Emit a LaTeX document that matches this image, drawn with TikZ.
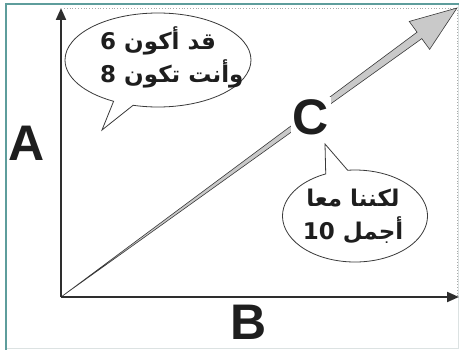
\documentclass[tikz,border=0pt]{standalone}
\usepackage{fontspec}
\usepackage{xcolor}
\setmainfont{Liberation Sans}
\newfontfamily\arabicfont[Script=Arabic]{DejaVu Sans}
\TeXXeTstate=1
\usetikzlibrary{arrows.meta,calc,shapes.callouts}
\definecolor{ink}{HTML}{1E1E1E}
\definecolor{axisgray}{HTML}{2E2E2E}
\definecolor{linegray}{HTML}{3A3A3A}
\definecolor{shaftgray}{HTML}{C9C9C9}
\definecolor{framegreen}{HTML}{5E9D9C}
\definecolor{dotgray}{HTML}{A8A8A8}
\definecolor{edgegray}{HTML}{DCE2E2}
\tikzset{
  axisarr/.style={-{Triangle[length=12pt,width=10pt]},line width=2pt,
                  draw=axisgray},
  shaftarr/.style={draw=linegray,fill=shaftgray,line width=0.6pt,
                   line join=miter},
  bubble/.style={ellipse callout,draw=linegray,fill=white,line width=0.8pt,
                 inner sep=0pt,outer sep=0pt},
  biglabel/.style={font=\fontsize{50}{50}\selectfont\bfseries,text=ink,
                   inner sep=1pt},
  arabtext/.style={font=\fontsize{23}{33}\selectfont\bfseries\arabicfont,
                   text=ink,inner sep=0pt},
  greenframe/.style={draw=framegreen,line width=2pt},
  dotframe/.style={draw=dotgray,line width=0.8pt,dotted},
  edgeframe/.style={draw=edgegray,line width=1pt}
}
\begin{document}
\begin{tikzpicture}[x=1pt,y=-1pt]
    \useasboundingbox (0,0) rectangle (459,350);
    % frame
    \draw[edgeframe] (6,348.5) -- (458.5,348.5) -- (458.5,4);
    \draw[dotframe] (64,8) -- (457,8) -- (457,297);
    \draw[greenframe] (6,350) -- (6,4) -- (459,4);

    % origin and axis ends
    \coordinate (orig) at (61,297);
    \coordinate (ytop) at (61,8);
    \coordinate (xend) at (459,297);
    \coordinate (tip) at (457,8);
    \coordinate (hbase) at ($(tip)!46.5pt!(orig)$);

    % diagonal block arrow
    \draw[shaftarr] (orig) -- ($(hbase)!4pt!-90:(tip)$)
      -- ($(hbase)!17.3pt!-90:(tip)$) -- (tip)
      -- ($(hbase)!17.3pt!90:(tip)$) -- ($(hbase)!4pt!90:(tip)$) -- cycle;

    \draw[axisarr] (orig) -- (ytop);
    \draw[axisarr] (orig) -- (xend);

    \node[biglabel,fill=white,inner sep=2pt] (labC) at (311,117) {C};
    \node[biglabel] (labA) at (27,143) {A};
    \node[biglabel] (labB) at (249,322) {B};

    % speech bubbles
    \coordinate (tailA) at (102,130);
    \coordinate (tailB) at (325,144);
    \node[bubble,minimum width=186pt,minimum height=94pt,
          callout absolute pointer={(tailA)},callout pointer arc=13]
      (bubA) at (158,60) {};
    \node[bubble,minimum width=145pt,minimum height=92pt,
          callout absolute pointer={(tailB)},callout pointer arc=18]
      (bubB) at (355,216) {};

    \node[arabtext,align=left,anchor=west] (txtA) at (100,57)
      {\beginR قد أكون 6\endR\\\beginR وأنت تكون 8\endR};
    \node[arabtext,align=center] (txtB) at (353,216)
      {\beginR لكننا معا\endR\\\beginR أجمل \beginL10\endL\endR};
\end{tikzpicture}
\end{document}
